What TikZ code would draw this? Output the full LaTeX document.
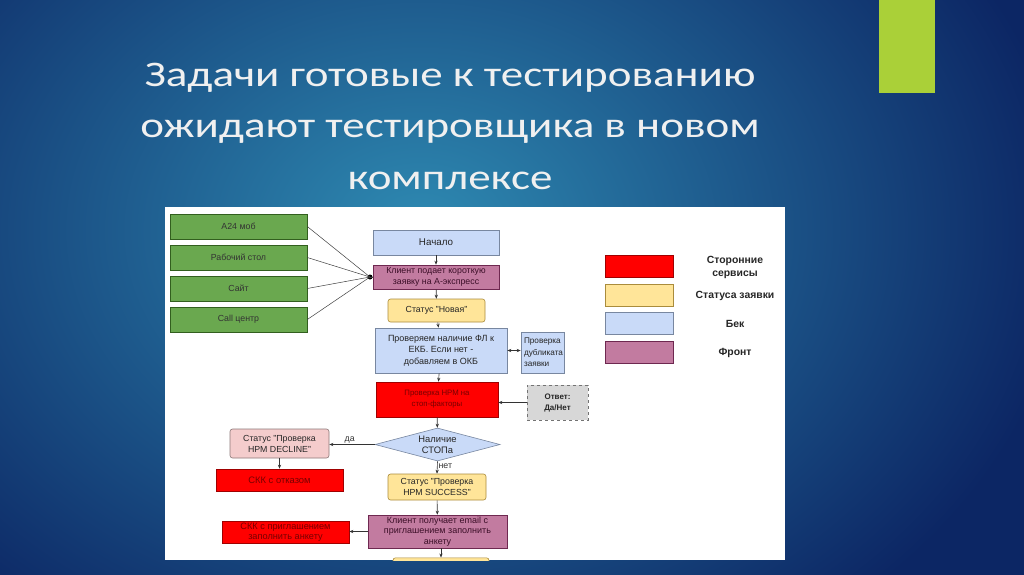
\documentclass[tikz,border=0pt]{standalone}
\usepackage{fontspec}
\setmainfont{Liberation Sans}
\newfontfamily\titlefont{Carlito}
\usetikzlibrary{shapes.geometric,arrows.meta}
\definecolor{bgin}{RGB}{46,138,178}
\definecolor{bgout}{RGB}{12,38,100}
\definecolor{barg}{RGB}{170,208,56}
\definecolor{gfill}{RGB}{106,168,79}
\definecolor{gline}{RGB}{50,95,30}
\definecolor{rfill}{RGB}{255,0,0}
\definecolor{rline}{RGB}{160,0,0}
\definecolor{rtext}{RGB}{120,0,0}
\definecolor{yfill}{RGB}{255,229,153}
\definecolor{yline}{RGB}{170,140,60}
\definecolor{bfill}{RGB}{201,218,248}
\definecolor{bline}{RGB}{120,135,160}
\definecolor{pfill}{RGB}{194,123,160}
\definecolor{pline}{RGB}{110,40,80}
\definecolor{ptext}{RGB}{60,15,40}
\definecolor{pkfill}{RGB}{244,204,204}
\definecolor{pkline}{RGB}{140,120,120}
\definecolor{gyfill}{RGB}{215,215,215}
\newcommand{\ttl}[1]{\scalebox{1.25}[1]{#1}}
\begin{document}
\begin{tikzpicture}[x=1pt,y=-1pt,
  titletext/.style={text=white!94!black, font=\titlefont\fontsize{36}{44}\selectfont, anchor=base, inner sep=0pt},
  box/.style={draw, rectangle, inner sep=1pt, align=center, line width=0.6pt,
    font=\fontsize{8.8}{11}\selectfont, text=black!85},
  green/.style={box, fill=gfill, draw=gline, text=black!80},
  red/.style={box, fill=rfill, draw=rline, text=rtext, font=\fontsize{7.8}{11}\selectfont},
  yel/.style={box, fill=yfill, draw=yline, rounded corners=2.5pt},
  blu/.style={box, fill=bfill, draw=bline},
  pur/.style={box, fill=pfill, draw=pline, text=ptext},
  pink/.style={box, fill=pkfill, draw=pkline, rounded corners=2.5pt},
  legtext/.style={font=\bfseries\fontsize{10.4}{12.4}\selectfont, align=center, text=black!85},
  arr/.style={-{Stealth[length=4pt,width=3.2pt]}, line width=0.6pt, draw=black!80},
  ln/.style={line width=0.5pt, draw=black!75},
  lbl/.style={font=\fontsize{8.8}{10}\selectfont, text=black!80, inner sep=1pt}
]
\useasboundingbox (0,0) rectangle (1024,574);
% background
\fill[bgout] (0,0) rectangle (1024,574);
\begin{scope}
\clip (0,0) rectangle (1024,574);
\fill[inner color=bgin, outer color=bgout] (-230,-270) rectangle (1070,730);
\end{scope}
\fill[barg] (879,0) rectangle (935,93);
% title
\node[titletext] (t1) at (450,86) {\ttl{Задачи готовые к тестированию}};
\node[titletext] (t2) at (450,137) {\ttl{ожидают тестировщика в новом}};
\node[titletext] (t3) at (450,189) {\ttl{комплексе}};
% panel
\fill[white] (165,207) rectangle (785,560);
% green sources
\node[green, minimum width=137, minimum height=25] (g1) at (238.5,226.5) {A24 моб};
\node[green, minimum width=137, minimum height=25] (g2) at (238.5,257.5) {Рабочий стол};
\node[green, minimum width=137, minimum height=25] (g3) at (238.5,288.5) {Сайт};
\node[green, minimum width=137, minimum height=25] (g4) at (238.5,319.5) {Call центр};
% main flow
\node[blu, minimum width=126, minimum height=25, font=\fontsize{9.8}{11}\selectfont] (start) at (436,242.5) {Начало};
\node[pur, minimum width=126, minimum height=24, font=\fontsize{8.8}{10.6}\selectfont] (client) at (436,277) {Клиент подает короткую\\заявку на А-экспресс};
\node[circle, fill=black, inner sep=0pt, minimum size=5pt] (dot) at (370,277) {};
\node[yel, minimum width=97, minimum height=23] (new) at (436.5,310.5) {Статус "Новая"};
\node[blu, minimum width=132, minimum height=45, font=\fontsize{9}{11.5}\selectfont] (check) at (441,350.5) {Проверяем наличие ФЛ к\\ЕКБ. Если нет -\\добавляем в ОКБ};
\node[blu, minimum width=41, minimum height=41, align=left, inner xsep=3pt, text width=37pt, font=\fontsize{8.2}{11.5}\selectfont] (dup) at (542.5,352.5) {Проверка\\дубликата\\заявки};
\node[red, minimum width=122, minimum height=35] (nrm) at (437,399.5) {Проверка НРМ на\\стоп-факторы};
\node[box, fill=gyfill, draw=black!55, dashed, minimum width=61, minimum height=35, font=\bfseries\fontsize{8}{11}\selectfont] (ans) at (557.5,402.5) {Ответ:\\Да/Нет};
\node[draw=bline, fill=bfill, diamond, aspect=3.8, minimum width=125, minimum height=33, inner sep=0.5pt, align=center, line width=0.6pt, font=\fontsize{9.4}{11}\selectfont, text=black!85] (stop) at (437.5,444.5) {Наличие\\СТОПа};
\node[pink, minimum width=99, minimum height=29] (dec) at (279.5,443.5) {Статус "Проверка\\НРМ DECLINE"};
\node[red, minimum width=127, minimum height=22, font=\fontsize{9.4}{11}\selectfont] (ref) at (279.5,480) {СКК с отказом};
\node[yel, minimum width=98, minimum height=26] (succ) at (437,487) {Статус "Проверка\\НРМ SUCCESS"};
\node[pur, minimum width=139, minimum height=33, font=\fontsize{9}{10.8}\selectfont] (mail) at (437.5,531.5) {Клиент получает email с\\приглашением заполнить\\анкету};
\node[red, minimum width=127, minimum height=22, font=\fontsize{9.2}{10.4}\selectfont] (inv) at (285.5,532) {СКК с приглашением\\заполнить анкету};
\begin{scope}
\clip (165,207) rectangle (785,560);
\node[yel, minimum width=96, minimum height=20, anchor=north] (nxt) at (441,557.5) {};
\end{scope}
% connectors
\draw[ln] (g1.east) -- (dot.center);
\draw[ln] (g2.east) -- (dot.center);
\draw[ln] (g3.east) -- (dot.center);
\draw[ln] (g4.east) -- (dot.center);
\draw[ln] (dot.center) -- (client.west);
\draw[arr] (start) -- (client);
\draw[arr] (client) -- (new);
\draw[arr] (new) -- (check);
\draw[arr, {Stealth[length=4pt,width=3.2pt]}-{Stealth[length=4pt,width=3.2pt]}] (check.east) -- (dup.west|-check.east);
\draw[arr] (check) -- (nrm);
\draw[arr] (ans.west) -- (nrm.east|-ans.west);
\draw[arr] (nrm) -- (stop);
\draw[arr] (stop.west) -- node[lbl, above, pos=0.55] {да} (dec.east|-stop.west);
\draw[arr] (dec) -- (ref);
\draw[arr] (stop.south) -- node[lbl, right, pos=0.4] {нет} (succ.north);
\draw[arr] (succ) -- (mail);
\draw[arr] (mail.west) -- (inv.east|-mail.west);
\draw[arr] (mail.south-|nxt.north) -- (nxt.north);
% legend
\node[box, fill=rfill, draw=rline, minimum width=68, minimum height=22] (l1) at (639,266) {};
\node[box, fill=yfill, draw=yline, minimum width=68, minimum height=22] (l2) at (639,295) {};
\node[box, fill=bfill, draw=bline, minimum width=68, minimum height=22] (l3) at (639,323.5) {};
\node[box, fill=pfill, draw=pline, minimum width=68, minimum height=22] (l4) at (639,352) {};
\node[legtext] (lt1) at (735,267.5) {Сторонние\\сервисы};
\node[legtext] (lt2) at (735,296) {Статуса заявки};
\node[legtext] (lt3) at (735,324) {Бек};
\node[legtext] (lt4) at (735,352.5) {Фронт};
\end{tikzpicture}
\end{document}
